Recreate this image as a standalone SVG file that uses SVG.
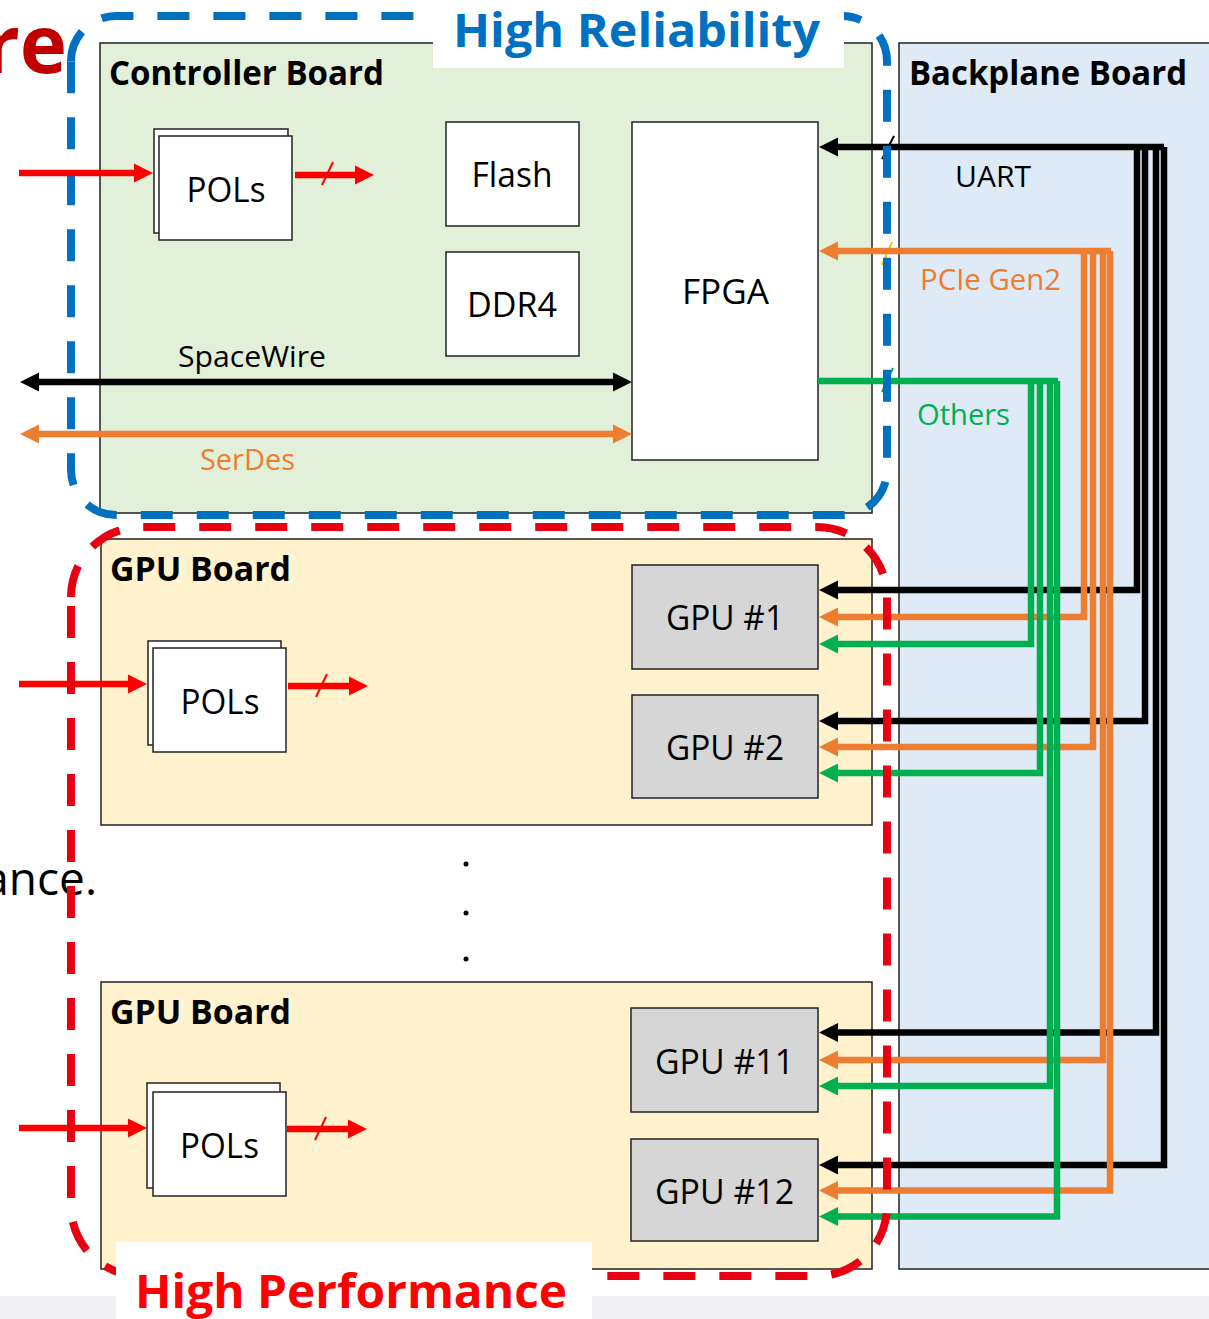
<svg xmlns="http://www.w3.org/2000/svg" width="1209" height="1319" viewBox="0 0 1209 1319">
<style>
text{font-family:"Open Sans","Noto Sans","Liberation Sans",sans-serif;fill:#000}
.t{font-size:34px;text-anchor:middle}
.h{font-size:34px;font-weight:700}
.l{font-size:29px}
.board{stroke:#222;stroke-width:1.5}
.box{stroke:#222;stroke-width:1.5;fill:#fff}
.gpu{stroke:#222;stroke-width:1.5;fill:#d6d6d6}
.c{fill:none;stroke-width:6.5;stroke-linejoin:miter}
.k{stroke:#000}.o{stroke:#ed7d31}.g{stroke:#00b050}.r{stroke:#f00}
.dash{fill:none;stroke-width:8;stroke-dasharray:32 24}
.sl{stroke-width:2;fill:none}
</style>
<defs>
<marker id="ak" markerUnits="userSpaceOnUse" markerWidth="19" markerHeight="20" refX="1" refY="10" orient="auto-start-reverse"><path d="M0 .5L19 10L0 19.5z" fill="#000"/></marker>
<marker id="ao" markerUnits="userSpaceOnUse" markerWidth="19" markerHeight="20" refX="1" refY="10" orient="auto-start-reverse"><path d="M0 .5L19 10L0 19.5z" fill="#ed7d31"/></marker>
<marker id="ag" markerUnits="userSpaceOnUse" markerWidth="19" markerHeight="20" refX="1" refY="10" orient="auto-start-reverse"><path d="M0 .5L19 10L0 19.5z" fill="#00b050"/></marker>
<marker id="ar" markerUnits="userSpaceOnUse" markerWidth="19" markerHeight="20" refX="1" refY="10" orient="auto-start-reverse"><path d="M0 .5L19 10L0 19.5z" fill="#f00"/></marker>
</defs>
<rect width="1209" height="1319" fill="#fff"/>
<rect y="1296" width="1209" height="23" fill="#f0f0f2"/>
<text x="67" y="73" text-anchor="end" style="font-size:80px;font-weight:700;fill:#c00000">re</text>
<text x="97" y="895" text-anchor="end" style="font-size:46px">ance.</text>

<g id="controller-board"><rect class="board" x="100" y="43" width="772" height="470" fill="#e2efd9"/><text class="h" x="109" y="85" textLength="275" lengthAdjust="spacingAndGlyphs">Controller Board</text></g>
<g id="backplane-board"><rect class="board" x="899" y="43" width="320" height="1226" fill="#deeaf6"/><text class="h" x="909" y="85" textLength="278" lengthAdjust="spacingAndGlyphs">Backplane Board</text></g>
<g id="gpu-board-1"><rect class="board" x="101" y="539" width="771" height="286" fill="#fff2cc"/><text class="h" x="110" y="581" textLength="181" lengthAdjust="spacingAndGlyphs">GPU Board</text></g>
<g id="gpu-board-2"><rect class="board" x="101" y="982" width="771" height="287" fill="#fff2cc"/><text class="h" x="110" y="1024" textLength="181" lengthAdjust="spacingAndGlyphs">GPU Board</text></g>

<g id="pols-1"><rect class="box" x="154" y="129" width="134" height="104"/><rect class="box" x="159" y="136" width="133" height="104"/><text class="t" x="226" y="202" textLength="79" lengthAdjust="spacingAndGlyphs">POLs</text></g>
<g id="flash"><rect class="box" x="446" y="122" width="133" height="104"/><text class="t" x="512" y="187" textLength="81" lengthAdjust="spacingAndGlyphs">Flash</text></g>
<g id="ddr4"><rect class="box" x="446" y="252" width="133" height="104"/><text class="t" x="512" y="317" textLength="90" lengthAdjust="spacingAndGlyphs">DDR4</text></g>
<g id="fpga"><rect class="box" x="632" y="122" width="186" height="338"/><text class="t" x="725.500" y="304" textLength="87" lengthAdjust="spacingAndGlyphs">FPGA</text></g>
<g id="pols-2"><rect class="box" x="148" y="641" width="133" height="104"/><rect class="box" x="153" y="648" width="133" height="104"/><text class="t" x="220" y="714" textLength="79" lengthAdjust="spacingAndGlyphs">POLs</text></g>
<g id="gpu-1"><rect class="gpu" x="632" y="565" width="186" height="104"/><text class="t" x="725" y="630" textLength="118" lengthAdjust="spacingAndGlyphs">GPU #1</text></g>
<g id="gpu-2"><rect class="gpu" x="632" y="695" width="186" height="103"/><text class="t" x="725" y="760" textLength="118" lengthAdjust="spacingAndGlyphs">GPU #2</text></g>
<g id="pols-3"><rect class="box" x="147" y="1083" width="133" height="105"/><rect class="box" x="153" y="1092" width="133" height="104"/><text class="t" x="219.500" y="1158" textLength="79" lengthAdjust="spacingAndGlyphs">POLs</text></g>
<g id="gpu-11"><rect class="gpu" x="631" y="1008" width="187" height="104"/><text class="t" x="724.500" y="1074" textLength="139" lengthAdjust="spacingAndGlyphs">GPU #11</text></g>
<g id="gpu-12"><rect class="gpu" x="631" y="1139" width="187" height="102"/><text class="t" x="724.500" y="1204" textLength="139" lengthAdjust="spacingAndGlyphs">GPU #12</text></g>

<g id="connectors">
<path class="sl" stroke="#000" d="M882 159L894 136"/>
<path class="sl" stroke="#ffc000" d="M882 265L892 242"/>
<path class="sl" stroke="#00b050" d="M882 392L893 368"/>
<g class="c k">
<path d="M1164 147V1165H837" marker-end="url(#ak)"/>
<path d="M1156 147V1032.500H837" marker-end="url(#ak)"/>
<path d="M1145 147V721H837" marker-end="url(#ak)"/>
<path d="M1137 147V590H837" marker-end="url(#ak)"/>
<path d="M1164 147H837" marker-end="url(#ak)"/>
</g>
<g class="c o">
<path d="M1110 251V1190.500H837" marker-end="url(#ao)"/>
<path d="M1103 251V1060H837" marker-end="url(#ao)"/>
<path d="M1093 251V747H837" marker-end="url(#ao)"/>
<path d="M1084 251V617H837" marker-end="url(#ao)"/>
<path d="M1111 251H837" marker-end="url(#ao)"/>
</g>
<g class="c g">
<path d="M1057 381V1216.500H837" marker-end="url(#ag)"/>
<path d="M1050 381V1086H837" marker-end="url(#ag)"/>
<path d="M1040 381V773H837" marker-end="url(#ag)"/>
<path d="M1031 381V644H837" marker-end="url(#ag)"/>
<path d="M1058 381H818"/>
</g>
<path class="c k" d="M38 382H614" marker-start="url(#ak)" marker-end="url(#ak)"/>
<path class="c o" d="M38 434H614" marker-start="url(#ao)" marker-end="url(#ao)"/>
<g class="c r">
<path d="M295 175H356" marker-end="url(#ar)"/>
<path d="M288 686H350" marker-end="url(#ar)"/>
<path d="M287 1129H349" marker-end="url(#ar)"/>
<path d="M19 684H129" marker-end="url(#ar)"/>
<path d="M19 1128H129" marker-end="url(#ar)"/>
</g>
<g class="sl r">
<path d="M322 185L333 162"/>
<path d="M316 697L327 674"/>
<path d="M315 1140L326 1117"/>
</g>
</g>

<path id="reliability-outline" class="dash" stroke="#0070c0" d="M71 61A45 45 0 0 1 116 16H842A45 45 0 0 1 887 61V470A45 45 0 0 1 842 515H116A45 45 0 0 1 71 470V61"/>
<path id="performance-outline" class="dash" stroke="#e60012" d="M71 597A70 70 0 0 1 141 527H817A70 70 0 0 1 887 597V1206A70 70 0 0 1 817 1276H141A70 70 0 0 1 71 1206V597"/>
<path class="c r" d="M19 173H135" marker-end="url(#ar)"/>

<g id="reliability-label"><rect x="433" y="0" width="411" height="68" fill="#fff"/><text x="453" y="47" textLength="367" lengthAdjust="spacingAndGlyphs" style="font-size:47px;font-weight:700;fill:#0070c0">High Reliability</text></g>
<g id="performance-label"><rect x="116" y="1242" width="476" height="77" fill="#fff"/><text x="135" y="1308" textLength="432" lengthAdjust="spacingAndGlyphs" style="font-size:47px;font-weight:700;fill:#f00">High Performance</text></g>

<text class="l" x="178" y="367" textLength="148" lengthAdjust="spacingAndGlyphs">SpaceWire</text>
<text class="l" x="200" y="470" textLength="95" lengthAdjust="spacingAndGlyphs" style="fill:#ed7d31">SerDes</text>
<text class="l" x="955" y="187" textLength="76" lengthAdjust="spacingAndGlyphs">UART</text>
<text class="l" x="920" y="290" textLength="141" lengthAdjust="spacingAndGlyphs" style="fill:#ed7d31">PCIe Gen2</text>
<text class="l" x="917" y="425" textLength="93" lengthAdjust="spacingAndGlyphs" style="fill:#00b050">Others</text>
<g fill="#000"><circle cx="466" cy="864" r="2.500"/><circle cx="466" cy="913" r="2.500"/><circle cx="466" cy="959" r="2.500"/></g>
</svg>
